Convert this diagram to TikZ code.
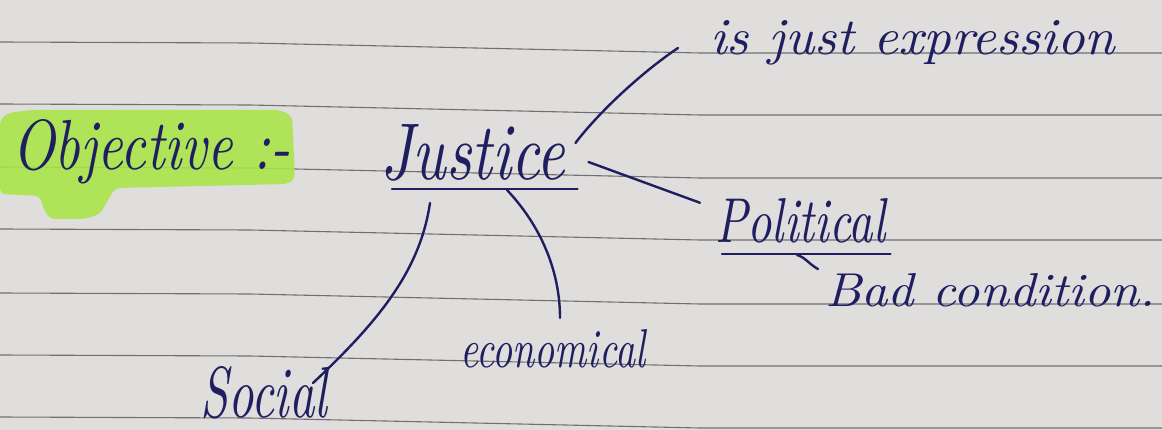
\documentclass[tikz,border=0pt]{standalone}
\usepackage{graphicx}
\usetikzlibrary{calc}
\definecolor{paper}{RGB}{223,222,220}
\definecolor{rulegrey}{RGB}{112,112,114}
\definecolor{ink}{RGB}{30,30,96}
\definecolor{marker}{RGB}{170,229,70}
% handwritten-size text: width, height, text
\newcommand{\hand}[3]{\resizebox{#1pt}{#2pt}{\itshape #3}}
\begin{document}
\begin{tikzpicture}[x=1pt,y=-1pt,
  note/.style={inner sep=0pt, anchor=base west, text=ink},
  inkline/.style={draw=ink, line width=2.4pt, line cap=round},
  ruling/.style={draw=rulegrey, line width=1.1pt}]
% page
\fill[paper] (0,0) rectangle (1162,430);
\useasboundingbox (0,0) rectangle (1162,430);
% ruled lines of the notebook
\foreach \y in {42,104,167,229,293,355,417}
  \draw[ruling] (0,\y) -- (250,\y+1) -- (700,\y+11) -- (1162,\y+11);
% highlighter stroke behind the heading
\fill[marker, opacity=0.88, rounded corners=5pt]
  (0,120) -- (8,113) -- (30,110) -- (280,110) -- (292,116) -- (295,178)
  -- (288,184) -- (115,188) -- (108,200) -- (100,214) -- (85,219)
  -- (50,219) -- (44,210) -- (40,196) -- (0,194) -- cycle;

% texts
\node[note] (objective)  at (12,170)  {\hand{278}{50}{Objective :-}};
\node[note] (justice)    at (380,180) {\hand{185}{55}{Justice}};
\node[note] (isjust)     at (710,55)  {\hand{405}{34}{is just expression}};
\node[note] (political)  at (715,243) {\hand{170}{44}{Political}};
\node[note] (bad)        at (825,307) {\hand{330}{33}{Bad condition.}};
\node[note] (economical) at (460,367) {\hand{185}{38}{economical}};
\node[note] (social)     at (200,417) {\hand{127}{51}{Social}};

% underlines
\draw[inkline] ($(justice.base west)+(12,9)$) -- ($(justice.base east)+(12,9)$);
\draw[inkline] ($(political.base west)+(7,11)$) -- ($(political.base east)+(5,11)$);

% branches
\draw[inkline] ($(justice.base east)+(10,-37)$)
  .. controls +(25,-33) and +(-33,22) .. ($(isjust.base west)+(-32,-7)$);
\draw[inkline] ($(justice.base east)+(23,-18)$) -- ($(political.north west)+(-15,4)$);
\draw[inkline] ($(justice.base west)+(50,23)$)
  .. controls +(-10,67) and +(67,-63) .. ($(social.base west)+(113,-34)$);
\draw[inkline] ($(justice.base west)+(127,10)$)
  .. controls +(33,35) and +(0,-48) .. ($(economical.base west)+(100,-49)$);
\draw[inkline] ($(political.base west)+(82,12)$)
  .. controls +(8,2) and +(-8,-4) .. ($(bad.base west)+(-7,-38)$);
\end{tikzpicture}
\end{document}
